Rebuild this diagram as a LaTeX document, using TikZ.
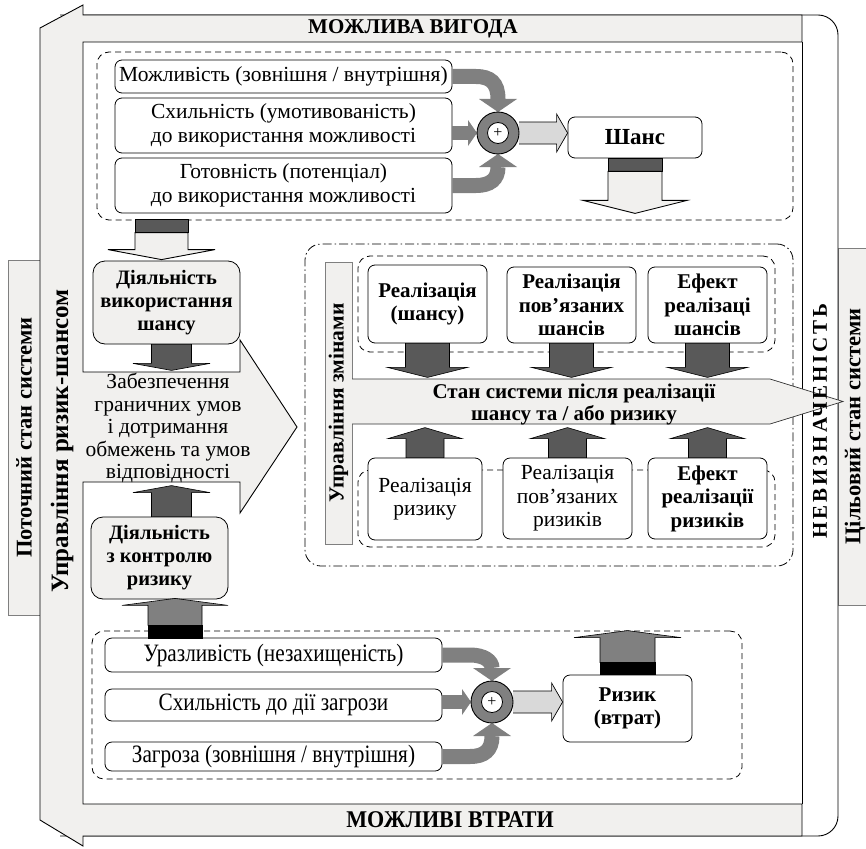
\documentclass[tikz,border=0pt]{standalone}
\usepackage{fontspec}
\setmainfont{Liberation Serif}
\newfontfamily\narrowserif[FakeStretch=0.85]{Liberation Serif}
\newfontfamily\titleserif[FakeStretch=0.92]{Liberation Serif}
\newfontfamily\spacedserif[LetterSpace=14]{Liberation Serif}
\usetikzlibrary{calc}
\definecolor{paper}{HTML}{F1F0EE}
\definecolor{darkfill}{HTML}{595959}
\definecolor{midfill}{HTML}{808080}
\definecolor{lightfill}{HTML}{D9D9D9}
\definecolor{edgegray}{HTML}{7F7F7F}

% block arrow: body half-width / head half-width / head base offset / tip offset
\tikzset{
  pics/blockarrow/.style n args={4}{code={%
    \path[pic actions] (-#1,0) -- (-#1,#3) -- (-#2,#3) -- (0,#4) -- (#2,#3) -- (#1,#3) -- (#1,0) -- cycle;}},
}

% three thick feed arrows converging on a summation ring
\newcommand\feedarrows[4]{%
  \draw[feed] (#2.east) -- ($(#1 |- #2.east)+(-22,0)$) .. controls ($(#1 |- #2.east)+(-8,0)$) and ($(#1 |- #2.east)+(0,6)$) .. ($(#1)+(0,-34)$);
  \fill[midfill] ($(#1)+(-19,-34)$) -- ($(#1)+(19,-34)$) -- ($(#1)+(0,-21)$) -- cycle;
  \draw[feed, line width=14pt] (#3.east |- #1) -- ($(#1)+(-30,0)$);
  \fill[midfill] ($(#1)+(-30,-13)$) -- ($(#1)+(-30,13)$) -- ($(#1)+(-21,0)$) -- cycle;
  \draw[feed] (#4.east) -- ($(#1 |- #4.east)+(-22,0)$) .. controls ($(#1 |- #4.east)+(-8,0)$) and ($(#1 |- #4.east)+(0,-6)$) .. ($(#1)+(0,34)$);
  \fill[midfill] ($(#1)+(-19,34)$) -- ($(#1)+(19,34)$) -- ($(#1)+(0,21)$) -- cycle;
}
% light block arrow from a summation ring to a result box
\newcommand\resultarrow[2]{%
  \draw[fill=lightfill, line width=0.7pt]
    ($(#1)+(21,-11)$) -- ($(#2.west |- #1)+(-11,-11)$) -- ($(#2.west |- #1)+(-11,-19)$)
    -- (#2.west |- #1) -- ($(#2.west |- #1)+(-11,19)$) -- ($(#2.west |- #1)+(-11,11)$)
    -- ($(#1)+(21,11)$);
}

\begin{document}
\begin{tikzpicture}[x=1pt,y=-1pt,
  every node/.style={inner sep=1pt},
  txt/.style={font=\fontsize{21.5}{22.5}\selectfont, align=center},
  plainbox/.style={draw, line width=0.8pt, rounded corners=7pt, fill=white, align=center, font=\fontsize{21.5}{23.5}\selectfont},
  narrowbox/.style={plainbox, font=\fontsize{25}{26}\selectfont\narrowserif},
  boldbox/.style={plainbox, font=\fontsize{21}{23.5}\selectfont\bfseries},
  actbox/.style={boldbox, fill=paper, rounded corners=12pt, font=\fontsize{20.5}{23}\selectfont\bfseries},
  group/.style={draw, line width=0.8pt, dash pattern=on 6pt off 4pt, rounded corners=12pt},
  outergroup/.style={draw, line width=0.8pt, dash pattern=on 9pt off 3pt on 1.5pt off 3pt, rounded corners=16pt},
  band/.style={draw, line width=0.9pt, fill=paper},
  sidebox/.style={draw=edgegray, line width=0.8pt, fill=paper, font=\fontsize{22.5}{23}\selectfont\bfseries},
  feed/.style={midfill, line width=15pt},
  sumring/.style={circle, draw, line width=0.9pt, fill=midfill, minimum size=42pt, inner sep=0pt},
  sumdot/.style={circle, draw, line width=0.8pt, fill=white, minimum size=21pt, inner sep=0pt, font=\fontsize{16}{16}\selectfont},
  darkarr/.style={draw, line width=0.6pt, fill=darkfill},
  midarr/.style={draw, line width=0.6pt, fill=midfill},
  title/.style={font=\fontsize{21}{22}\selectfont\bfseries},
]
\useasboundingbox (0,0) rectangle (866,848);

% states of the system on both sides
\node[sidebox, rotate=90, minimum width=355pt, minimum height=32pt] (current) at (24,437.5) {Поточний стан системи};
\node[sidebox, rotate=90, minimum width=357pt, minimum height=34pt] (target) at (855,426.5) {Цільовий стан системи};

% outer frame with the rounded right side
\draw[fill=white, line width=0.9pt, rounded corners=20pt] (60,15) -- (838,15) -- (838,836) -- (60,836);

% grey bands: gain on top, losses at the bottom, management on the left with its arrow
\draw[band] (40,28) -- (83,5) -- (83,15) -- (802,15) -- (802,42) -- (83,42) -- (83,372) -- (240,372)
  -- (240,340) -- (297,427) -- (240,513) -- (240,482) -- (83,482) -- (83,804) -- (802,804)
  -- (802,836) -- (83,836) -- (83,846) -- (40,820) -- cycle;
\draw[line width=0.9pt] (802,42) -- (802,804);

\node[title] (gain) at (413,28.5) {МОЖЛИВА ВИГОДА};
\node[font=\fontsize{24}{25}\selectfont\bfseries\titleserif] (loss) at (450,820) {МОЖЛИВІ ВТРАТИ};
\node[rotate=90, font=\fontsize{25}{26}\selectfont\bfseries] (mgmt) at (62,441) {Управління ризик-шансом};

% ---------- chance formation ----------
\node[group, minimum width=696pt, minimum height=168pt] (chancegroup) at (445,136) {};
\node[plainbox, minimum width=337pt, minimum height=33pt] (opp) at (283.5,76.5) {Можливість (зовнішня / внутрішня)};
\node[plainbox, minimum width=337pt, minimum height=55pt] (incl) at (283.5,125.5) {Схильність (умотивованість)\\до використання можливості};
\node[plainbox, minimum width=337pt, minimum height=55pt] (ready) at (283.5,185.5) {Готовність (потенціал)\\до використання можливості};
\node[boldbox, minimum width=134pt, minimum height=41pt, font=\fontsize{23}{24}\selectfont\bfseries] (chance) at (635,137.5) {Шанс};
\coordinate (sA) at (498,133);
\feedarrows{sA}{opp}{incl}{ready}
\resultarrow{sA}{chance}
\node[sumring] (sumA) at (sA) {};
\node[sumdot] (sumAin) at (sA) {+};

\draw[darkarr] ($(chance.south)+(-27,0)$) rectangle ($(chance.south)+(27,13)$);
\pic[band] at ($(chance.south)+(0,13)$) {blockarrow={27}{52}{29}{42}};

% ---------- use of the chance ----------
\node[actbox, minimum width=147pt, minimum height=83pt] (useact) at (166.5,302.5) {Діяльність\\використання\\шансу};
\draw[darkarr] ($(useact.north)+(-31.5,-41)$) rectangle ($(useact.north)+(21.5,-28)$);
\pic[band] at ($(useact.north)+(-5,-28)$) {blockarrow={26.5}{53.5}{17}{27}};
\pic[darkarr] at ($(useact.south)+(5,0)$) {blockarrow={20}{38.5}{19}{26}};

\node[txt] (cond) at (168,428) {Забезпечення\\граничних умов\\і дотримання\\обмежень та умов\\відповідності};

% ---------- risk control ----------
\node[actbox, minimum width=137pt, minimum height=82pt] (ctrl) at (159.5,558) {Діяльність\\з контролю\\ризику};
\pic[darkarr] at ($(ctrl.north)+(12,0)$) {blockarrow={20}{38.5}{-24}{-31}};

% ---------- change management ----------
\node[outergroup, minimum width=488pt, minimum height=322pt] (changegroup) at (549,405) {};
\node[sidebox, rotate=90, minimum width=282pt, minimum height=27pt, font=\fontsize{21.5}{22}\selectfont\bfseries] (changebar) at (338.5,403) {Управління змінами};
\node[group, minimum width=417pt, minimum height=96pt] (upperrow) at (566.5,304) {};
\node[group, minimum width=417pt, minimum height=77pt] (lowerrow) at (566.5,508.5) {};

\node[boldbox, minimum width=119pt, minimum height=78pt] (r1) at (427.5,304) {Реалізація\\(шансу)};
\node[boldbox, minimum width=129pt, minimum height=76pt] (r2) at (571.5,305) {Реалізація\\пов’язаних\\шансів};
\node[boldbox, minimum width=119pt, minimum height=76pt] (r3) at (707.5,305) {Ефект\\реалізаці\\шансів};

\node[plainbox, minimum width=114pt, minimum height=82pt] (q1) at (425,499) {Реалізація\\ризику};
\node[plainbox, minimum width=129pt, minimum height=81pt] (q2) at (567.5,498.5) {Реалізація\\пов’язаних\\ризиків};
\node[boldbox, minimum width=119pt, minimum height=81pt] (q3) at (707.5,498.5) {Ефект\\реалізації\\ризиків};

\foreach \b in {r1,r2,r3} {\pic[darkarr] at (\b.south) {blockarrow={22}{40}{24}{34}};}
\foreach \b in {q1,q2,q3} {\pic[darkarr] at (\b.north) {blockarrow={19}{37}{-19}{-30}};}

% state after the change, pointing to the target state
\draw[fill=paper, draw=black!80, line width=0.7pt] (352,379) -- (770,379) -- (843,401.5) -- (770,424) -- (352,424);
\node[txt, font=\fontsize{21}{22}\selectfont\bfseries] (after) at (574,404) {Стан системи після реалізації\\шансу та / або ризику};

\node[rotate=90, font=\fontsize{21}{22}\selectfont\bfseries\spacedserif] (uncert) at (820,421) {НЕВИЗНАЧЕНІСТЬ};

% ---------- risk formation ----------
\node[group, minimum width=650pt, minimum height=148pt] (riskgroup) at (417,705) {};
\node[narrowbox, minimum width=337pt, minimum height=34pt] (vuln) at (273.5,655) {Уразливість (незахищеність)};
\node[narrowbox, minimum width=337pt, minimum height=32pt] (expo) at (273.5,705) {Схильність до дії загрози};
\node[narrowbox, minimum width=337pt, minimum height=29pt] (threat) at (273.5,756.5) {Загроза (зовнішня / внутрішня)};
\node[boldbox, minimum width=129pt, minimum height=67pt] (risk) at (627.5,708.5) {Ризик\\(втрат)};
\coordinate (sB) at (492,702);
\feedarrows{sB}{vuln}{expo}{threat}
\resultarrow{sB}{risk}
\node[sumring] (sumB) at (sB) {};
\node[sumdot] (sumBin) at (sB) {+};

\pic[midarr] at ($(risk.north)+(0,-12)$) {blockarrow={27.5}{53.5}{-25}{-32}};
\draw[fill=black] ($(risk.north)+(-27.5,-12)$) rectangle ($(risk.north)+(27.5,0)$);

\pic[midarr] at ($(ctrl.south)+(15.5,26)$) {blockarrow={27}{53}{-20}{-27}};
\draw[fill=black] ($(ctrl.south)+(-11.5,26)$) rectangle ($(ctrl.south)+(42.5,39)$);
\end{tikzpicture}
\end{document}
